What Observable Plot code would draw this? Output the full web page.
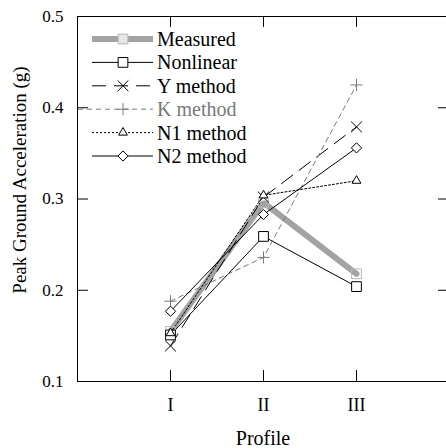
<!DOCTYPE html>
<html>
<head>
<meta charset="utf-8">
<script src="https://cdn.jsdelivr.net/npm/d3@7"></script>
<script src="https://cdn.jsdelivr.net/npm/@observablehq/plot@0.6"></script>
<style>
  html, body { margin: 0; padding: 0; background: #fff; }
  #chart svg { display: block; }
</style>
</head>
<body>
<div id="chart"></div>
<script>
// ---- data ----
const profiles = [1, 2, 3];
const profileLabels = ["I", "II", "III"];
const yTicks = [0.1, 0.2, 0.3, 0.4, 0.5];
const innerYTicks = [0.2, 0.3, 0.4];

const measured  = [0.155, 0.296, 0.218];
const nonlinear = [0.151, 0.259, 0.204];
const yMethod   = [0.139, 0.302, 0.379];
const kMethod   = [0.188, 0.236, 0.425];
const n1Method  = [0.153, 0.304, 0.320];
const n2Method  = [0.177, 0.283, 0.356];

const seriesNames = ["Measured", "Nonlinear", "Y method", "K method", "N1 method", "N2 method"];
const seriesValues = [measured, nonlinear, yMethod, kMethod, n1Method, n2Method];

// ---- styles ----
const styles = {
  "Measured":  {stroke: "#a3a3a3", width: 6, dash: null, symbol: "square2", r: 6.2, mstroke: "#b8b8b8", fill: "none", text: "#000"},
  "Nonlinear": {stroke: "#000", width: 1, dash: null, symbol: "square2", r: 6.2, mstroke: "#000", fill: "white", text: "#000"},
  "Y method":  {stroke: "#000", width: 1, dash: "14,8", symbol: "times", r: 5, mstroke: "#000", fill: "none", text: "#000"},
  "K method":  {stroke: "#7a7a7a", width: 1, dash: "5,4", symbol: "plus", r: 4, mstroke: "#7a7a7a", fill: "none", text: "#7a7a7a"},
  "N1 method": {stroke: "#000", width: 1, dash: "2,2", symbol: "triangle2", r: 4.2, mstroke: "#000", fill: "white", text: "#000"},
  "N2 method": {stroke: "#000", width: 1, dash: null, symbol: "diamond2", r: 4.6, mstroke: "#000", fill: "white", text: "#000"}
};

const rows = [];
seriesNames.forEach((name, i) => {
  seriesValues[i].forEach((v, j) => rows.push({series: name, profile: profiles[j], value: v}));
});

const lineMarks = seriesNames.map(name => {
  const s = styles[name];
  return Plot.line(rows.filter(d => d.series === name), {
    x: "profile", y: "value", stroke: s.stroke, strokeWidth: s.width,
    strokeDasharray: s.dash, strokeLinejoin: "miter"
  });
});
const dotMarks = seriesNames.map(name => {
  const s = styles[name];
  return Plot.dot(rows.filter(d => d.series === name), {
    x: "profile", y: "value", symbol: s.symbol, r: s.r,
    stroke: s.mstroke, fill: s.fill, strokeWidth: 1
  });
});

const xMin = 0, xMax = 4;
const tickX = 0.118;   // inward tick length in x units
const tickY = 0.012;   // inward tick length in y units
const font = "'Liberation Serif', 'Times New Roman', serif";

const plot = Plot.plot({
  width: 446,
  height: 448,
  marginLeft: 77,
  marginTop: 16,
  marginBottom: 67,
  marginRight: 0,
  x: {domain: [xMin, xMax], range: [77, 449]},
  y: {domain: [0.1, 0.5], range: [381, 16]},
  style: {fontFamily: font, fontSize: "17px", color: "#000", background: "#fff"},
  marks: [
    // frame
    Plot.ruleX([xMin], {y1: 0.1, y2: 0.5, stroke: "#000"}),
    Plot.ruleY([0.1, 0.5], {x1: xMin, x2: xMax, stroke: "#000"}),
    // inward ticks
    Plot.ruleX(profiles, {x: d => d, y1: 0.1, y2: 0.1 + tickY, stroke: "#000"}),
    Plot.ruleX(profiles, {x: d => d, y1: 0.5, y2: 0.5 - tickY, stroke: "#000"}),
    Plot.ruleY(innerYTicks, {y: d => d, x1: xMin, x2: xMin + tickX, stroke: "#000"}),
    Plot.ruleY(innerYTicks, {y: d => d, x1: xMax - tickX, x2: xMax, stroke: "#000"}),
    // axes
    Plot.axisX(profiles, {tickSize: 0, tickPadding: 17, fontSize: 18, tickFormat: d => profileLabels[profiles.indexOf(d)], label: null}),
    Plot.axisY(yTicks, {tickSize: 0, tickPadding: 14, fontSize: 17, tickFormat: d => d.toFixed(1), label: null}),
    ...lineMarks,
    ...dotMarks
  ]
});

document.getElementById("chart").appendChild(plot);

// axis titles + legend
const svg = d3.select(plot);
svg.append("text")
  .attr("transform", "translate(26,180) rotate(-90)")
  .attr("text-anchor", "middle")
  .attr("font-family", font).attr("font-size", 19)
  .text("Peak Ground Acceleration (g)");
svg.append("text")
  .attr("x", 263).attr("y", 445)
  .attr("text-anchor", "middle")
  .attr("font-family", font).attr("font-size", 20)
  .text("Profile");

const symbolMap = {square2: d3.symbolSquare2, times: d3.symbolTimes, plus: d3.symbolPlus, triangle2: d3.symbolTriangle2, diamond2: d3.symbolDiamond2};
const lg = svg.append("g");
seriesNames.forEach((name, i) => {
  const s = styles[name];
  const yy = 39 + i * 23.4;
  const x0 = name === "K method" ? 78 : 92, x1 = 153, xc = 123;
  lg.append("line").attr("x1", x0).attr("x2", x1).attr("y1", yy).attr("y2", yy)
    .attr("stroke", s.stroke).attr("stroke-width", s.width)
    .attr("stroke-dasharray", s.dash);
  lg.append("path")
    .attr("transform", `translate(${xc},${yy})`)
    .attr("d", d3.symbol(symbolMap[s.symbol], Math.PI * s.r * s.r)())
    .attr("stroke", s.mstroke).attr("fill", name === "Measured" ? "#e6e6e6" : (s.fill === "none" ? "white" : s.fill));
  lg.append("text").attr("x", 157).attr("y", yy).attr("dy", "0.35em")
    .attr("text-anchor", "start")
    .attr("font-family", font).attr("font-size", 20)
    .attr("fill", s.text).text(name);
});
</script>
</body>
</html>
